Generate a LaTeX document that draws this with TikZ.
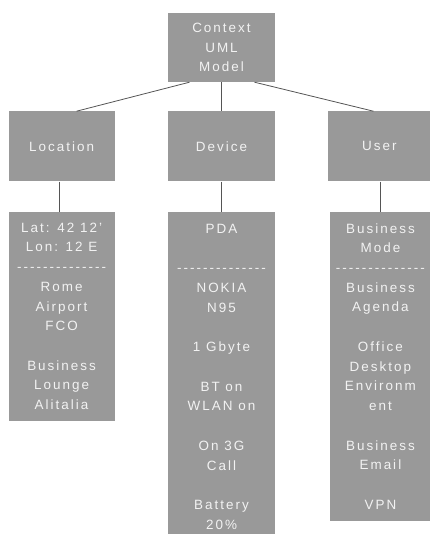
\documentclass[tikz,border=0pt]{standalone}
\usepackage{fontspec}
\setmainfont{Liberation Sans}[LetterSpace=15]
\usepackage{tikz}
\usetikzlibrary{positioning}
\definecolor{boxgray}{HTML}{999999}
\definecolor{boxtext}{HTML}{F2F2F2}
\definecolor{linegray}{HTML}{555555}
\tikzstyle{box} = [fill=boxgray, text=boxtext, align=center, inner sep=0pt, font=\fontsize{13.5}{19.8}\selectfont]
\tikzstyle{head} = [box, minimum height=70bp]
\tikzstyle{info} = [box]
\tikzstyle{line} = [draw=linegray, line width=0.8pt]
\newcommand{\sepdash}{-{}-{}-{}-{}-{}-{}-{}-{}-{}-{}-{}-{}-{}-}
\newcommand{\gap}{\strut}

\begin{document}
\begin{tikzpicture}[x=1bp, y=1bp]
    \useasboundingbox (0,0) rectangle (430,-534);

    \node (context) [head, minimum width=107bp, minimum height=69bp] at (221.5,-47.5) {Context\\UML\\Model};
    \node (device) [head, minimum width=107bp, below=29bp of context] {Device};
    \node (location) [head, minimum width=106bp, left=53bp of device] {Location};
    \node (user) [head, minimum width=102bp, right=53bp of device] {User};

    % Details
    \node (locinfo) [info, minimum width=106bp, minimum height=209bp, below=30bp of location]
        {Lat: 42 12'\\Lon: 12 E\\\sepdash\\Rome\\Airport\\FCO\\\gap\\Business\\Lounge\\Alitalia};
    \node (devinfo) [info, minimum width=107bp, minimum height=330bp, below=30bp of device]
        {PDA\\\gap\\\sepdash\\NOKIA\\N95\\\gap\\1 Gbyte\\\gap\\BT on\\WLAN on\\\gap\\On 3G\\Call\\\gap\\Battery\\20\%};
    \node (userinfo) [info, minimum width=100bp, minimum height=309bp, below=30bp of user, xshift=1bp]
        {Business\\Mode\\\sepdash\\Business\\Agenda\\\gap\\Office\\Desktop\\Environm\\ent\\\gap\\Business\\Email\\\gap\\VPN};

    % Edges
    \draw[line] ([xshift=-32bp]context.south) -- ([xshift=15bp]location.north);
    \draw[line] (context) -- (device);
    \draw[line] ([xshift=33bp]context.south) -- ([xshift=-6bp]user.north);
    \draw[line] ([xshift=-2bp]location.south) -- ([xshift=-2bp]locinfo.north);
    \draw[line] (device) -- (devinfo);
    \draw[line] ([xshift=1bp]user.south) -- (userinfo.north);
\end{tikzpicture}
\end{document}
